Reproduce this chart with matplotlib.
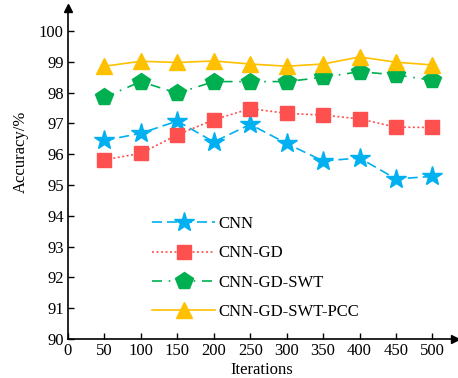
import matplotlib.pyplot as plt

plt.rcParams['font.family'] = ['Liberation Serif', 'DejaVu Serif']
plt.rcParams['font.size'] = 12

# Accuracy vs. iterations
iterations = [50, 100, 150, 200, 250, 300, 350, 400, 450, 500]
cnn = [96.45, 96.68, 97.08, 96.40, 96.97, 96.35, 95.78, 95.88, 95.20, 95.28]
cnn_gd = [95.82, 96.03, 96.63, 97.12, 97.48, 97.33, 97.27, 97.15, 96.88, 96.87]
cnn_gd_swt = [97.85, 98.36, 97.98, 98.36, 98.36, 98.36, 98.50, 98.68, 98.58, 98.40]
cnn_gd_swt_pcc = [98.86, 99.02, 98.98, 99.03, 98.93, 98.86, 98.93, 99.16, 98.99, 98.90]

fig = plt.figure(figsize=(4.58, 3.78), dpi=100)
ax = fig.add_axes([68 / 458, 1 - 339 / 378, (455 - 68) / 458, (339 - 8) / 378])

ax.plot(iterations, cnn, linestyle=(0, (6, 3)), color='#00B0F0', marker='*',
        markersize=15, lw=1.2, label='CNN')
ax.plot(iterations, cnn_gd, linestyle=(0, (1.2, 1.5)), color='#FF5050', marker='s',
        markersize=10, lw=1.2, label='CNN-GD')
ax.plot(iterations, cnn_gd_swt, linestyle=(0, (6, 4, 1, 4)), color='#00B050', marker='p',
        markersize=13, lw=1.2, label='CNN-GD-SWT')
ax.plot(iterations, cnn_gd_swt_pcc, linestyle='-', color='#FFC000', marker='^',
        markersize=12, lw=1.2, label='CNN-GD-SWT-PCC')

ax.set_xlim(0, 531)
ax.set_ylim(90, 100.75)
ax.set_xticks(range(0, 501, 50))
ax.set_yticks(range(90, 101))
ax.tick_params(direction='in', length=4, width=1, labelsize=12, pad=3)
ax.spines['top'].set_visible(False)
ax.spines['right'].set_visible(False)
ax.spines['left'].set_linewidth(1.2)
ax.spines['bottom'].set_linewidth(1.2)

# arrow heads on the axes
ax.plot(1, 90, '>k', transform=ax.get_yaxis_transform(), clip_on=False, markersize=6)
ax.plot(0, 1, '^k', transform=ax.get_xaxis_transform(), clip_on=False, markersize=6)

ax.set_xlabel('Iterations', labelpad=2)
ax.set_ylabel('Accuracy/%')
ax.yaxis.set_label_coords(-0.10, 0.565)

ax.legend(loc='center left', bbox_to_anchor=(0.217, 0.2145), frameon=False,
          borderaxespad=0, borderpad=0, handlelength=3.8, labelspacing=0.8,
          handletextpad=0.2, fontsize=12)

plt.savefig('out.png', dpi=100)
